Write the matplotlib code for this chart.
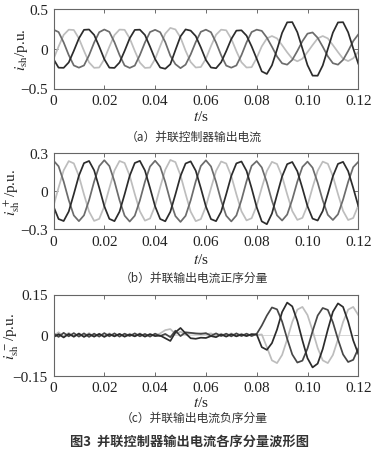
import numpy as np
import matplotlib
matplotlib.use('Agg')
import matplotlib.pyplot as plt

# fonts: Times-like numbers, CJK for captions
plt.rcParams['font.family'] = ['Liberation Serif', 'DejaVu Serif']
plt.rcParams['mathtext.fontset'] = 'stix'
cjk = ['Noto Sans CJK SC', 'DejaVu Sans']

# 1 Data (samples every 2 ms, 0 .. 0.12 s)
#------------------------------------------
t_end = 0.12

# (a) shunt controller output current
ia_light = [-0.13, 0.028, 0.174, 0.24, 0.236, 0.13, -0.026, -0.172, -0.24, -0.236,
            -0.131, 0.026, 0.172, 0.241, 0.238, 0.131, -0.027, -0.174, -0.241, -0.237,
            -0.13, 0.033, 0.19, 0.262, 0.243, 0.142, -0.025, -0.167, -0.236, -0.23,
            -0.127, 0.033, 0.176, 0.24, 0.232, 0.125, -0.03, -0.17, -0.236, -0.232,
            -0.116, 0.03, 0.13, 0.16, 0.13, 0.045, -0.045, -0.125, -0.158, -0.125,
            -0.042, 0.046, 0.13, 0.16, 0.13, 0.046, -0.042, -0.125, -0.155, -0.12,
            -0.04]
ia_medium = [0.24, 0.21, 0.08, -0.08, -0.21, -0.238, -0.21, -0.082, 0.078, 0.208,
             0.242, 0.212, 0.082, -0.079, -0.211, -0.241, -0.212, -0.08, 0.079, 0.21,
             0.238, 0.208, 0.084, -0.088, -0.194, -0.244, -0.2, -0.072, 0.084, 0.213,
             0.24, 0.208, 0.078, -0.082, -0.212, -0.238, -0.21, -0.08, 0.08, 0.21,
             0.24, 0.225, 0.14, 0.025, -0.097, -0.183, -0.2, -0.14, -0.028, 0.095,
             0.19, 0.205, 0.138, 0.026, -0.095, -0.182, -0.2, -0.14, -0.028, 0.096,
             0.18]
ia_dark = [-0.13, -0.238, -0.24, -0.172, -0.026, 0.13, 0.238, 0.242, 0.174, 0.028,
           -0.131, -0.238, -0.241, -0.173, -0.027, 0.131, 0.237, 0.24, 0.173, 0.027,
           -0.13, -0.236, -0.252, -0.195, -0.017, 0.156, 0.243, 0.228, 0.159, 0.017,
           -0.141, -0.236, -0.245, -0.17, -0.03, 0.122, 0.228, 0.232, 0.165, 0.03,
           -0.126, -0.285, -0.317, -0.208, -0.01, 0.2, 0.332, 0.335, 0.208, 0.002,
           -0.206, -0.338, -0.339, -0.21, -0.003, 0.203, 0.331, 0.334, 0.207, 0.004,
           -0.188]

# (b) positive sequence component
ib_light = [-0.118, 0.027, 0.163, 0.236, 0.218, 0.118, -0.027, -0.162, -0.236, -0.22,
            -0.121, 0.024, 0.162, 0.237, 0.221, 0.121, -0.024, -0.16, -0.234, -0.217,
            -0.117, 0.03, 0.168, 0.245, 0.228, 0.124, -0.023, -0.163, -0.238, -0.222,
            -0.122, 0.022, 0.159, 0.233, 0.217, 0.118, -0.026, -0.16, -0.232, -0.215,
            -0.116, 0.026, 0.158, 0.23, 0.213, 0.115, -0.026, -0.158, -0.228, -0.212,
            -0.114, 0.028, 0.16, 0.232, 0.215, 0.117, -0.024, -0.157, -0.229, -0.213,
            -0.114]
ib_medium = [0.24, 0.195, 0.075, -0.072, -0.193, -0.238, -0.192, -0.073, 0.075, 0.196,
             0.243, 0.197, 0.076, -0.073, -0.195, -0.241, -0.195, -0.075, 0.073, 0.193,
             0.239, 0.192, 0.071, -0.078, -0.198, -0.244, -0.196, -0.074, 0.076, 0.197,
             0.242, 0.194, 0.072, -0.076, -0.195, -0.24, -0.193, -0.071, 0.077, 0.198,
             0.236, 0.186, 0.068, -0.077, -0.192, -0.233, -0.186, -0.068, 0.074, 0.19,
             0.232, 0.184, 0.066, -0.074, -0.188, -0.229, -0.184, -0.068, 0.072, 0.188,
             0.23]
ib_dark = [-0.122, -0.221, -0.237, -0.162, -0.024, 0.121, 0.22, 0.237, 0.163, 0.026,
           -0.12, -0.22, -0.238, -0.163, -0.026, 0.12, 0.221, 0.238, 0.162, 0.024,
           -0.121, -0.221, -0.239, -0.164, -0.027, 0.118, 0.217, 0.234, 0.16, 0.023,
           -0.122, -0.222, -0.238, -0.163, -0.025, 0.119, 0.218, 0.233, 0.159, 0.022,
           -0.128, -0.24, -0.262, -0.178, -0.03, 0.115, 0.212, 0.229, 0.156, 0.022,
           -0.12, -0.218, -0.233, -0.158, -0.023, 0.117, 0.214, 0.23, 0.157, 0.024,
           -0.118]

# (c) negative sequence component
ic_light = [-0.004, 0.01, -0.006, 0.008, -0.007, 0.006, -0.005, 0.007, -0.006, 0.005,
            -0.004, 0.006, -0.005, 0.004, -0.006, 0.005, -0.004, 0.006, -0.005, 0.004,
            -0.003, 0.006, 0.018, 0.022, 0.004, 0.012, 0.002, 0.006, 0.004, 0.007,
            0.003, 0.006, -0.003, 0.005, -0.004, 0.006, -0.003, 0.005, -0.004, 0.004,
            0.0, 0.002, -0.045, -0.094, -0.104, -0.074, -0.016, 0.048, 0.094, 0.104,
            0.074, 0.016, -0.048, -0.094, -0.104, -0.074, -0.016, 0.048, 0.094, 0.104,
            0.074]
ic_medium = [0.006, -0.007, 0.008, -0.005, 0.007, -0.006, 0.006, -0.007, 0.005, -0.006,
             0.007, -0.005, 0.006, -0.006, 0.005, -0.004, 0.006, -0.005, 0.004, -0.006,
             0.005, -0.004, 0.004, -0.008, 0.016, -0.004, 0.01, 0.008, 0.006, 0.004,
             0.007, -0.003, 0.006, -0.004, 0.005, -0.005, 0.006, -0.004, 0.005, -0.004,
             0.004, 0.035, 0.072, 0.102, 0.095, 0.05, -0.014, -0.072, -0.102, -0.095,
             -0.05, 0.014, 0.072, 0.1, 0.093, 0.047, -0.016, -0.072, -0.1, -0.092,
             -0.05]
ic_dark = [-0.008, 0.003, -0.009, 0.004, -0.006, 0.005, -0.007, 0.003, -0.006, 0.004,
           -0.007, 0.003, -0.005, 0.004, -0.006, 0.002, -0.005, 0.004, -0.006, 0.003,
           -0.004, -0.002, -0.012, -0.022, 0.01, 0.026, 0.006, -0.012, -0.014, -0.01,
           -0.011, -0.004, -0.008, 0.002, -0.006, 0.003, -0.005, 0.002, -0.004, 0.003,
           0.002, -0.045, -0.055, -0.03, 0.02, 0.085, 0.12, 0.106, 0.052, -0.02,
           -0.086, -0.12, -0.106, -0.052, 0.02, 0.086, 0.117, 0.104, 0.05, -0.02,
           -0.07]

xticks = [0, 0.02, 0.04, 0.06, 0.08, 0.10, 0.12]
xticklabels = ['0', '0.02', '0.04', '0.06', '0.08', '0.10', '0.12']
yticks_a = [-0.5, 0, 0.5]
yticks_b = [-0.3, 0, 0.3]
yticks_c = [-0.15, 0, 0.15]
yticklabels_a = ['\u22120.5', '0', '0.5']
yticklabels_b = ['\u22120.3', '0', '0.3']
yticklabels_c = ['\u22120.15', '0', '0.15']

ylabels = [r'$i_{\mathrm{sh}}$/p.u.', r'$i_{\mathrm{sh}}^{\;+}$/p.u.', r'$i_{\mathrm{sh}}^{\;-}$/p.u.']
captions = ['（a）并联控制器输出电流', '（b）并联输出电流正序分量', '（c）并联输出电流负序分量']
title = '图3  并联控制器输出电流各序分量波形图'

c_light = '#bdbdbd'
c_medium = '#6c6c6c'
c_medium_c = '#474747'
c_dark = '#2c2c2c'


# 2 Figure
#---------
fig = plt.figure(figsize=(3.79, 4.56), dpi=100)
W, H = 379.0, 456.0

panels = [
    ([ia_light, ia_medium, ia_dark], yticks_a, yticklabels_a, (10, 89.5), 22, 117, 137),
    ([ib_light, ib_medium, ib_dark], yticks_b, yticklabels_b, (154, 230), 12, 260, 278),
    ([ic_light, ic_medium, ic_dark], yticks_c, yticklabels_c, (295.5, 376.5), 12, 403, 418),
]

for i, (series, yt, ytl, (ytop, ybot), ylx, xly, capy) in enumerate(panels):
    bottom = 1 - ybot / H
    top = 1 - ytop / H
    ax = fig.add_axes([53.5 / W, bottom, 304.8 / W, top - bottom])
    t = np.linspace(0, t_end, len(series[0]))
    cols = [c_light, c_medium, c_dark]
    if i == 2:
        ax.axhline(0, color='#d8d8d8', lw=0.7, zorder=0)
        cols = [c_light, c_medium_c, c_dark]
    for vals, col in zip(series, cols):
        ax.plot(t, vals, color=col, lw=1.25)
    ax.set_xlim(0, t_end)
    ax.set_ylim(yt[0], yt[-1])
    ax.set_xticks(xticks)
    ax.set_xticklabels(xticklabels)
    ax.set_yticks(yt)
    ax.set_yticklabels(ytl)
    ax.tick_params(direction='in', top=True, right=True, length=3, width=0.6,
                   labelsize=11, pad=4, colors='#555555', labelcolor='#222222')
    for s in ax.spines.values():
        s.set_color('#666666')
        s.set_linewidth(0.8)

    cy = (ytop + ybot) / 2
    fig.text(ylx / W, 1 - cy / H, ylabels[i], rotation=90, ha='center', va='center',
             fontsize=11, color='#222222')
    fig.text(201 / W, 1 - xly / H, r'$t$/s', ha='center', va='center',
             fontsize=11, color='#222222')
    fig.text(194 / W, 1 - capy / H, captions[i], ha='center', va='center',
             fontsize=8.5, color='#333333', family=cjk)

fig.text(189.5 / W, 1 - 442 / H, title, ha='center', va='center', fontsize=9.5,
         fontweight='bold', color='#333333', family=cjk)

fig.savefig('out.png', dpi=100, facecolor='white')
